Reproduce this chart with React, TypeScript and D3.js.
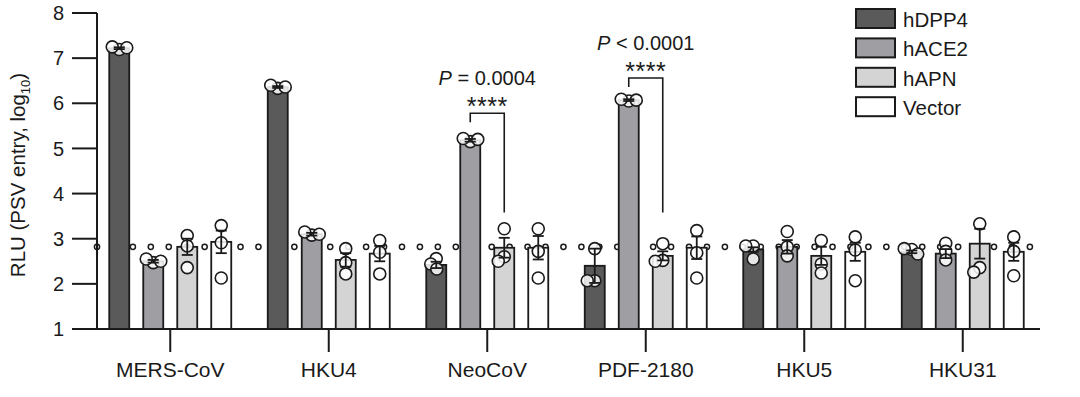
import React from 'react';
import * as d3 from 'd3';

const groups = ['MERS-CoV', 'HKU4', 'NeoCoV', 'PDF-2180', 'HKU5', 'HKU31'];
const receptors = ['hDPP4', 'hACE2', 'hAPN', 'Vector'];
const fills = ['#5a5a5a', '#9e9ea3', '#d4d4d4', '#ffffff'];

// bar means (log10 RLU), one value per group
const dpp4Mean = [7.22, 6.36, 2.42, 2.4, 2.76, 2.71];
const ace2Mean = [2.5, 3.1, 5.18, 6.07, 2.82, 2.67];
const apnMean = [2.82, 2.53, 2.8, 2.62, 2.62, 2.89];
const vectorMean = [2.93, 2.67, 2.8, 2.8, 2.71, 2.71];
const means = [dpp4Mean, ace2Mean, apnMean, vectorMean];

// s.e.m. per bar
const dpp4Sem = [0.02, 0.02, 0.07, 0.38, 0.05, 0.03];
const ace2Sem = [0.03, 0.03, 0.03, 0.02, 0.15, 0.1];
const apnSem = [0.18, 0.15, 0.22, 0.1, 0.2, 0.33];
const vectorSem = [0.25, 0.17, 0.26, 0.25, 0.2, 0.2];
const sems = [dpp4Sem, ace2Sem, apnSem, vectorSem];

// replicates, [receptor][replicate] for each group
const mersPts = [[7.19, 7.25, 7.23], [2.47, 2.55, 2.5], [3.07, 2.84, 2.36], [3.29, 2.91, 2.13]];
const hku4Pts = [[6.33, 6.4, 6.36], [3.08, 3.15, 3.1], [2.78, 2.47, 2.22], [2.96, 2.7, 2.22]];
const neoPts = [[2.56, 2.44, 2.33], [5.15, 5.22, 5.2], [3.22, 2.6, 2.5], [3.22, 2.72, 2.13]];
const pdfPts = [[2.78, 2.07, 2.07], [6.05, 6.09, 6.07], [2.89, 2.52, 2.5], [3.18, 2.69, 2.13]];
const hku5Pts = [[2.84, 2.84, 2.55], [3.16, 2.82, 2.62], [2.96, 2.44, 2.24], [3.04, 2.75, 2.07]];
const hku31Pts = [[2.76, 2.78, 2.66], [2.9, 2.72, 2.53], [3.33, 2.36, 2.26], [3.04, 2.72, 2.18]];
const points = [mersPts, hku4Pts, neoPts, pdfPts, hku5Pts, hku31Pts];

const detectionLimit = 2.82;
const yTicks = [1, 2, 3, 4, 5, 6, 7, 8];

const sigTests = [
  { group: 'NeoCoV', from: 'hACE2', to: 'hAPN', top: 5.78, leftEnd: 5.58, rightEnd: 3.58, op: '= 0.0004' },
  { group: 'PDF-2180', from: 'hACE2', to: 'hAPN', top: 6.56, leftEnd: 6.36, rightEnd: 3.58, op: '< 0.0001' },
];

const W = 1080, H = 397;
const font = 'Liberation Sans, Arial, Helvetica, sans-serif';
const ink = '#1a1a1a';

// simple dodge so replicates with similar values sit side by side
function dodge(vals: number[], y: (v: number) => number, minD: number) {
  const placed: { x: number; y: number }[] = [];
  return vals.map(v => {
    const py = y(v);
    let px = 0;
    for (let k = 0; k < 60; k++) {
      const c = (k % 2 === 1 ? -1 : 1) * Math.ceil(k / 2) * 0.5;
      if (placed.every(p => Math.hypot(p.x - c, p.y - py) >= minD)) { px = c; break; }
    }
    placed.push({ x: px, y: py });
    return { x: px, y: py };
  });
}

export default function App() {
  const axisX = 97;
  const y = d3.scaleLinear().domain([1, 8]).range([329, 13]);
  const x = d3.scaleBand().domain(groups).range([91, 1042]);
  const inner = d3.scaleBand().domain(receptors).range([-68, 68]).paddingInner(0.4118).paddingOuter(0.2059);
  const bw = inner.bandwidth();
  const cx = (g: string) => (x(g) as number) + x.bandwidth() / 2;
  const bx = (g: string, r: string) => cx(g) + (inner(r) as number);

  const dotStep = x.step() / 8.835;
  const dots = d3.range(0, 53).map(i => axisX + i * dotStep);

  return (
    <svg width={W} height={H} style={{ position: 'absolute', left: 0, top: 0, background: '#fff' }} fontFamily={font}>
      {/* detection limit */}
      {dots.map((d, i) => (
        <circle key={'d' + i} cx={d} cy={y(detectionLimit)} r={2.6} fill="#fff" stroke={ink} strokeWidth={1.5} />
      ))}

      {/* bars */}
      {groups.map((g, gi) => receptors.map((r, ri) => (
        <rect key={g + r} x={bx(g, r)} y={y(means[ri][gi])} width={bw} height={y(1) - y(means[ri][gi])}
          fill={fills[ri]} stroke={ink} strokeWidth={1.8} />
      )))}

      {/* replicates */}
      {groups.map((g, gi) => receptors.map((r, ri) => {
        const c = bx(g, r) + bw / 2;
        return dodge(points[gi][ri], y, 7.5).map((p, k) => (
          <circle key={g + r + k} cx={c + p.x} cy={p.y} r={6} fill="#fff" fillOpacity={0.85} stroke={ink} strokeWidth={1.6} />
        ));
      }))}

      {/* error bars */}
      {groups.map((g, gi) => receptors.map((r, ri) => {
        const c = bx(g, r) + bw / 2;
        const m = means[ri][gi], e = sems[ri][gi];
        return (
          <g key={'e' + g + r} stroke={ink} strokeWidth={1.8}>
            <line x1={c} x2={c} y1={y(m - e)} y2={y(m + e)} />
            <line x1={c - 5.5} x2={c + 5.5} y1={y(m + e)} y2={y(m + e)} />
            <line x1={c - 5.5} x2={c + 5.5} y1={y(m - e)} y2={y(m - e)} />
          </g>
        );
      }))}

      {/* y axis */}
      <line x1={axisX} x2={axisX} y1={y(8)} y2={y(1)} stroke={ink} strokeWidth={2} />
      {yTicks.map(t => (
        <g key={'yt' + t}>
          <line x1={axisX - 25} x2={axisX} y1={y(t)} y2={y(t)} stroke={ink} strokeWidth={2} />
          <text x={64} y={y(t)} dy="0.36em" textAnchor="end" fontSize={20} fill={ink}>{t}</text>
        </g>
      ))}
      <text transform={`translate(25,${175}) rotate(-90)`} textAnchor="middle" fontSize={20.5} fill={ink}>
        RLU (PSV entry, log<tspan fontSize={13} dy={5}>10</tspan><tspan dy={-5}>)</tspan>
      </text>

      {/* x axis */}
      <line x1={axisX - 1} x2={1040} y1={y(1)} y2={y(1)} stroke={ink} strokeWidth={2} />
      {groups.map(g => (
        <g key={'xt' + g}>
          <line x1={cx(g)} x2={cx(g)} y1={y(1)} y2={y(1) + 23} stroke={ink} strokeWidth={2} />
          <text x={cx(g)} y={377} textAnchor="middle" fontSize={21} fill={ink}>{g}</text>
        </g>
      ))}

      {/* significance */}
      {sigTests.map(s => {
        const x1 = bx(s.group, s.from) + bw / 2;
        const x2 = bx(s.group, s.to) + bw / 2;
        const mid = (x1 + x2) / 2;
        return (
          <g key={'s' + s.group}>
            <path d={`M${x1},${y(s.leftEnd)}V${y(s.top)}H${x2}V${y(s.rightEnd)}`} fill="none" stroke={ink} strokeWidth={1.6} />
            <text x={mid} y={y(s.top) + 2} textAnchor="middle" fontSize={25} letterSpacing={0.5} fill={ink}>****</text>
            <text x={mid} y={y(s.top) - 28} textAnchor="middle" fontSize={20} fill={ink}>
              <tspan fontStyle="italic">P</tspan> {s.op}
            </text>
          </g>
        );
      })}

      {/* legend */}
      {receptors.map((r, i) => (
        <g key={'l' + r} transform={`translate(856,${9 + i * 29.4})`}>
          <rect width={39} height={19} fill={fills[i]} stroke={ink} strokeWidth={2} />
          <text x={47} y={18} fontSize={20.5} fill={ink}>{r}</text>
        </g>
      ))}
    </svg>
  );
}
